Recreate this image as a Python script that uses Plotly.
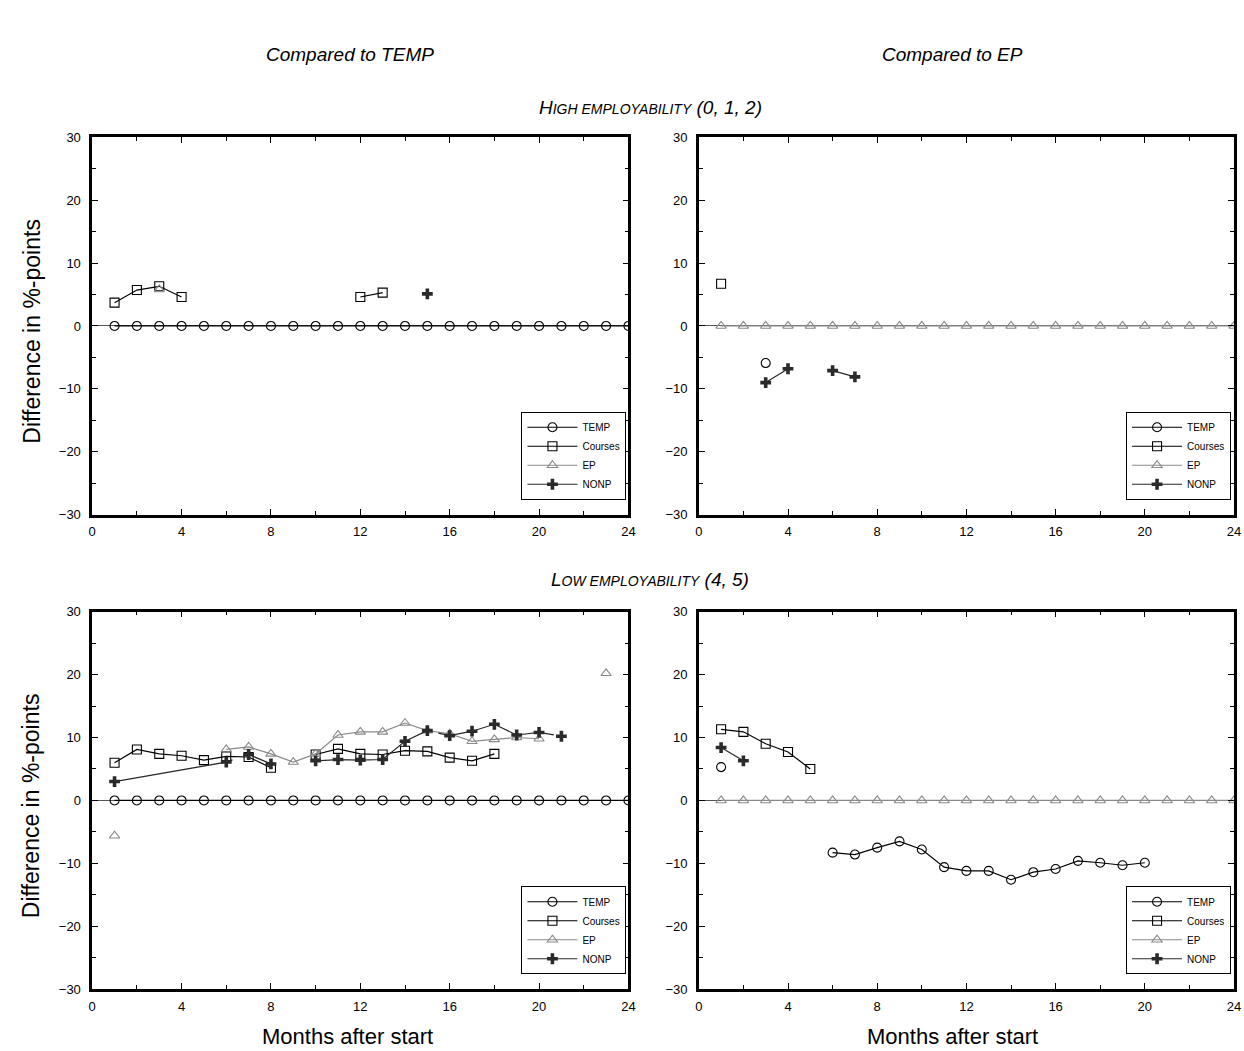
import plotly.graph_objects as go

# ---------------- data ----------------
months_all = list(range(1, 25))
zeros_all = [0] * 24

# Top-left: High employability, compared to TEMP
tl_courses_m = [1, 2, 3, 4, None, 12, 13]
tl_courses_v = [3.7, 5.7, 6.3, 4.6, None, 4.6, 5.3]
tl_ep_m = [3]
tl_ep_v = [5.8]
tl_nonp_m = [15]
tl_nonp_v = [5.1]

# Top-right: High employability, compared to EP
tr_temp_m = [3]
tr_temp_v = [-5.9]
tr_courses_m = [1]
tr_courses_v = [6.7]
tr_nonp_m = [3, 4, None, 6, 7]
tr_nonp_v = [-9.0, -6.8, None, -7.1, -8.1]

# Bottom-left: Low employability, compared to TEMP
bl_courses_m = [1, 2, 3, 4, 5, 6, 7, 8, None, 10, 11, 12, 13, 14, 15, 16, 17, 18]
bl_courses_v = [6.0, 8.1, 7.4, 7.1, 6.4, 7.0, 6.9, 5.2, None, 7.3, 8.2, 7.4, 7.3, 7.9, 7.8, 6.8, 6.3, 7.4]
bl_ep_m = [1, None, 6, 7, 8, 9, 10, 11, 12, 13, 14, 15, 16, 17, 18, 19, 20, None, 23]
bl_ep_v = [-5.6, None, 8.1, 8.5, 7.4, 6.1, 7.4, 10.4, 10.9, 10.9, 12.3, 11.1, 10.6, 9.4, 9.7, 10.0, 9.8, None, 20.2]
bl_nonp_m = [1, 6, 7, 8, None, 10, 11, 12, 13, 14, 15, 16, 17, 18, 19, 20, 21]
bl_nonp_v = [3.0, 6.1, 7.3, 5.8, None, 6.3, 6.5, 6.4, 6.5, 9.4, 11.1, 10.3, 11.0, 12.1, 10.4, 10.8, 10.2]

# Bottom-right: Low employability, compared to EP
br_temp_m = [1, None, 6, 7, 8, 9, 10, 11, 12, 13, 14, 15, 16, 17, 18, 19, 20]
br_temp_v = [5.3, None, -8.3, -8.6, -7.5, -6.5, -7.8, -10.6, -11.2, -11.2, -12.6, -11.4, -10.9, -9.6, -9.9, -10.3, -9.9]
br_courses_m = [1, 2, 3, 4, 5]
br_courses_v = [11.3, 10.9, 9.0, 7.7, 5.0]
br_nonp_m = [1, 2]
br_nonp_v = [8.4, 6.3]

col_titles = ["<i>Compared to TEMP</i>", "<i>Compared to EP</i>"]
row_titles = [
    "<i>H<span style='font-size:14px'>IGH EMPLOYABILITY</span> (0, 1, 2)</i>",
    "<i>L<span style='font-size:14px'>OW EMPLOYABILITY</span> (4, 5)</i>",
]
x_ticks = [0, 4, 8, 12, 16, 20, 24]
y_ticks = [-30, -20, -10, 0, 10, 20, 30]

# ---------------- styles ----------------
W, H = 1244, 1051
FONT = "Arial, Liberation Sans, sans-serif"


def px(xp):
    return xp / W


def py(yp):
    # small vertical correction measured from previous renders
    yp = 508 + (yp - 508) / 0.9868
    return 1 - yp / H


styles = {
    "TEMP": dict(color="black", symbol="circle-open", dash="solid", size=9),
    "Courses": dict(color="black", symbol="square-open", dash="solid", size=9),
    "EP": dict(color="#8a8a8a", symbol="triangle-up-open", dash="solid", size=9),
    "NONP": dict(color="#2a2a2a", symbol="cross", dash="120px,12px", size=9),
}

fig = go.Figure()

panels = [
    ("x", "y", "legend", {
        "TEMP": (months_all, zeros_all),
        "Courses": (tl_courses_m, tl_courses_v),
        "EP": (tl_ep_m, tl_ep_v),
        "NONP": (tl_nonp_m, tl_nonp_v),
    }),
    ("x2", "y2", "legend2", {
        "TEMP": (tr_temp_m, tr_temp_v),
        "Courses": (tr_courses_m, tr_courses_v),
        "EP": (months_all, zeros_all),
        "NONP": (tr_nonp_m, tr_nonp_v),
    }),
    ("x3", "y3", "legend3", {
        "TEMP": (months_all, zeros_all),
        "Courses": (bl_courses_m, bl_courses_v),
        "EP": (bl_ep_m, bl_ep_v),
        "NONP": (bl_nonp_m, bl_nonp_v),
    }),
    ("x4", "y4", "legend4", {
        "TEMP": (br_temp_m, br_temp_v),
        "Courses": (br_courses_m, br_courses_v),
        "EP": (months_all, zeros_all),
        "NONP": (br_nonp_m, br_nonp_v),
    }),
]

for xa, ya, lg, series in panels:
    for name in ["TEMP", "Courses", "EP", "NONP"]:
        mx, my = series[name]
        st = styles[name]
        fig.add_trace(go.Scatter(
            x=mx, y=my, name=name, mode="lines+markers",
            xaxis=xa, yaxis=ya, legend=lg, connectgaps=False,
            line=dict(color=st["color"], width=1.2, dash=st["dash"]),
            marker=dict(symbol=st["symbol"], size=st["size"], color=st["color"],
                        line=dict(width=1.1 if name != "NONP" else 0, color=st["color"])),
        ))

xl = [px(89), px(630)]
xr = [px(701), px(1241)]
yt = [py(515), py(137)]
yb = [py(990), py(612)]


def xaxis(domain, anchor):
    return dict(domain=domain, anchor=anchor, range=[0, 24], tickvals=x_ticks,
                ticks="inside", ticklen=6, tickwidth=1, tickcolor="black",
                minor=dict(dtick=2, tick0=0, ticks="inside", ticklen=4, tickcolor="black"),
                showline=True, linecolor="black", linewidth=2.5, mirror="ticks",
                showgrid=False, zeroline=False, ticklabelstandoff=3,
                tickfont=dict(family=FONT, size=13, color="black"))


def yaxis(domain, anchor):
    return dict(domain=domain, anchor=anchor, range=[-30, 30], tickvals=y_ticks,
                ticks="inside", ticklen=6, tickwidth=1, tickcolor="black",
                minor=dict(dtick=5, tick0=0, ticks="inside", ticklen=4, tickcolor="black"),
                showline=True, linecolor="black", linewidth=2.5, mirror="ticks",
                showgrid=False, zeroline=True, zerolinecolor="#555", zerolinewidth=1.2,
                ticklabelstandoff=6,
                tickfont=dict(family=FONT, size=13, color="black"))


def legend(x, y):
    return dict(x=x, y=y, xanchor="right", yanchor="bottom", xref="paper", yref="paper",
                bgcolor="white", bordercolor="black", borderwidth=1,
                font=dict(family=FONT, size=10, color="black"),
                tracegroupgap=0, itemwidth=50)


fig.update_layout(
    width=W, height=H, margin=dict(l=0, r=0, t=0, b=0),
    paper_bgcolor="white", plot_bgcolor="white",
    xaxis=xaxis(xl, "y"), yaxis=yaxis(yt, "x"),
    xaxis2=xaxis(xr, "y2"), yaxis2=yaxis(yt, "x2"),
    xaxis3=xaxis(xl, "y3"), yaxis3=yaxis(yb, "x3"),
    xaxis4=xaxis(xr, "y4"), yaxis4=yaxis(yb, "x4"),
    legend=legend(px(628), py(500)),
    legend2=legend(px(1238), py(500)),
    legend3=legend(px(628), py(975)),
    legend4=legend(px(1238), py(975)),
    showlegend=True,
)

ann = []
ann.append(dict(text=col_titles[0], x=px(349), y=py(54), font=dict(family=FONT, size=19, color="black")))
ann.append(dict(text=col_titles[1], x=px(957), y=py(54), font=dict(family=FONT, size=19, color="black")))
ann.append(dict(text=row_titles[0], x=px(652), y=py(107), font=dict(family=FONT, size=19, color="black")))
ann.append(dict(text=row_titles[1], x=px(652), y=py(580), font=dict(family=FONT, size=19, color="black")))
for yc in [331, 806]:
    ann.append(dict(text="Difference in %-points", x=px(28), y=py(yc), textangle=-90,
                    font=dict(family=FONT, size=23, color="black")))
for xc in [347, 957]:
    ann.append(dict(text="Months after start", x=px(xc), y=py(1037),
                    font=dict(family=FONT, size=22, color="black")))
for a in ann:
    a.update(xref="paper", yref="paper", showarrow=False, xanchor="center", yanchor="middle")
fig.update_layout(annotations=ann)

fig.write_html(
    "out.html",
    config={"displayModeBar": False},
    post_script="document.body.style.margin='0';document.body.style.overflow='hidden';",
)
